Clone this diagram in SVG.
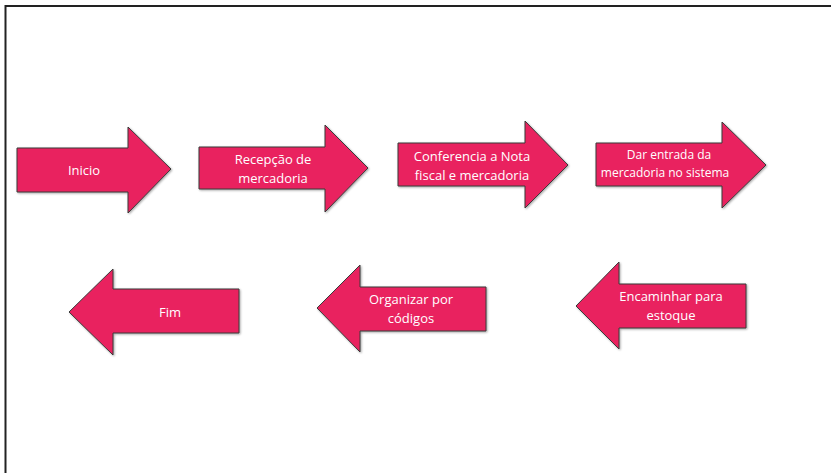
<svg xmlns="http://www.w3.org/2000/svg" width="831" height="473" viewBox="0 0 831 473">
<style>
.a{fill:#E9225E;stroke:#3a3a3a;stroke-width:1;filter:url(#sh)}
.t{fill:#fff;font-family:"Open Sans","Liberation Sans",sans-serif;font-size:13px;text-anchor:middle}
.s{font-size:12px}
</style>
<defs>
<filter id="sh" x="-10%" y="-10%" width="130%" height="130%">
<feDropShadow dx="1" dy="1" stdDeviation="0.8" flood-color="#000" flood-opacity="0.35"/>
</filter>
</defs>
<rect width="831" height="473" fill="#fff"/>
<path d="M5.5,473 V6 H831" fill="none" stroke="#222" stroke-width="2"/>
<g id="inicio">
<polygon class="a" points="17,148 128,148 128,127 171,169 128,213 128,192 17,192"/>
<text class="t" x="84" y="175">Inicio</text>
</g>
<g id="recepcao">
<polygon class="a" points="199,147 325,147 325,125 368,168 325,212 325,189 199,189"/>
<text class="t" x="273" y="164">Recepção de</text>
<text class="t" x="273" y="183">mercadoria</text>
</g>
<g id="conferencia">
<polygon class="a" points="398,143 525,143 525,121 568,165 525,208 525,186 398,186"/>
<text class="t" x="472" y="161">Conferencia a Nota</text>
<text class="t" x="472" y="180">fiscal e mercadoria</text>
</g>
<g id="dar-entrada">
<polygon class="a" points="596,143 722,143 722,122 766,165 722,208 722,186 596,186"/>
<text class="t s" x="669" y="159">Dar entrada da</text>
<text class="t s" x="665" y="177">mercadoria no sistema</text>
</g>
<g id="encaminhar">
<polygon class="a" points="746,284 619,284 619,262 576,306 619,349 619,328 746,328"/>
<text class="t" x="671" y="301">Encaminhar para</text>
<text class="t" x="671" y="320">estoque</text>
</g>
<g id="organizar">
<polygon class="a" points="486,287 360,287 360,265 317,308 360,352 360,331 486,331"/>
<text class="t" x="411" y="304">Organizar por</text>
<text class="t" x="411" y="323">códigos</text>
</g>
<g id="fim">
<polygon class="a" points="239,289 113,289 113,269 69,312 113,355 113,333 239,333"/>
<text class="t" x="170" y="317">Fim</text>
</g>
<g id="connectors"></g>
</svg>
